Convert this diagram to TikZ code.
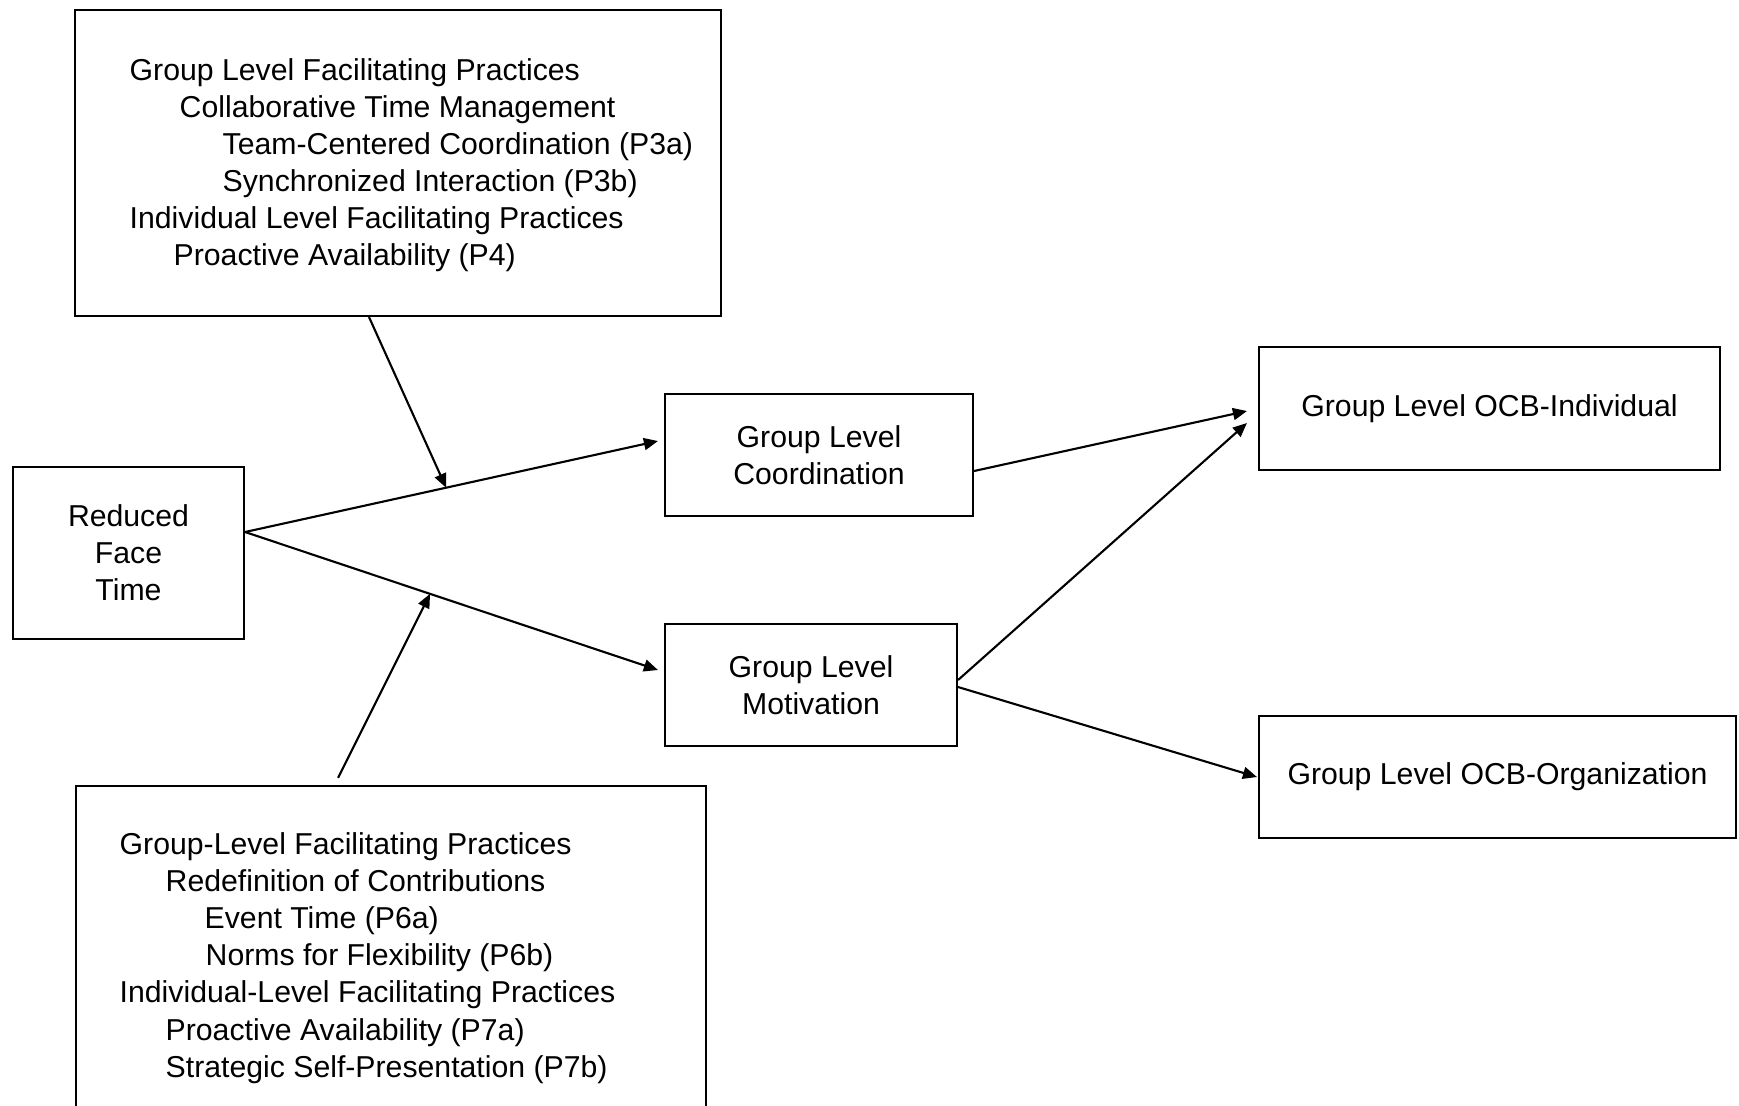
\documentclass[tikz,border=0pt]{standalone}
\usepackage{fontspec}
\setmainfont{Liberation Sans}
\usetikzlibrary{arrows.meta}

\begin{document}
\begin{tikzpicture}[font=\fontsize{8.6}{10.55}\selectfont]
	\tikzstyle{box_style} = [rectangle,draw=black,line width=0.6pt,align=center,inner sep=0pt]
	\tikzstyle{list_style} = [align=left,inner sep=0pt,anchor=west]
	\tikzstyle{edge_style} = [draw=black,line width=0.6pt,-{Triangle[length=4pt,width=3.4pt]}]
	\useasboundingbox (0,0) rectangle (17.39,-11.05);
	\clip (0,0) rectangle (17.39,-11.05);
	% moderator boxes
	\node[box_style,minimum width=6.46cm,minimum height=3.06cm] (top) at (3.98,-1.63) {};
	\node[list_style] (top_list) at (1.29,-1.65) {Group Level Facilitating Practices\\
		\hspace*{0.50cm}Collaborative Time Management\\
		\hspace*{0.93cm}Team-Centered Coordination (P3a)\\
		\hspace*{0.93cm}Synchronized Interaction (P3b)\\
		Individual Level Facilitating Practices\\
		\hspace*{0.44cm}Proactive Availability (P4)};
	\node[box_style,minimum width=6.30cm,minimum height=3.49cm] (bottom) at (3.91,-9.605) {};
	\node[list_style] (bottom_list) at (1.19,-9.58) {Group-Level Facilitating Practices\\
		\hspace*{0.46cm}Redefinition of Contributions\\
		\hspace*{0.85cm}Event Time (P6a)\\
		\hspace*{0.86cm}Norms for Flexibility (P6b)\\
		Individual-Level Facilitating Practices\\
		\hspace*{0.46cm}Proactive Availability (P7a)\\
		\hspace*{0.46cm}Strategic Self-Presentation (P7b)};
	% path boxes
	\node[box_style,minimum width=2.31cm,minimum height=1.72cm] (rft) at (1.285,-5.53) {Reduced\\Face\\Time};
	\node[box_style,minimum width=3.08cm,minimum height=1.22cm] (coord) at (8.19,-4.55) {Group Level\\Coordination};
	\node[box_style,minimum width=2.92cm,minimum height=1.22cm] (motiv) at (8.11,-6.85) {Group Level\\Motivation};
	\node[box_style,minimum width=4.61cm,minimum height=1.23cm] (ocb_ind) at (14.895,-4.085) {Group Level OCB-Individual};
	\node[box_style,minimum width=4.77cm,minimum height=1.22cm] (ocb_org) at (14.975,-7.77) {Group Level OCB-Organization};
	% arrows
	\coordinate (src) at ([yshift=2.1mm]rft.east);
	\draw[edge_style] (src) -- ([xshift=-0.6mm,yshift=1.4mm]coord.west) coordinate[pos=0.487] (mod_up);
	\draw[edge_style] (src) -- ([xshift=-0.6mm,yshift=1.5mm]motiv.west) coordinate[pos=0.448] (mod_low);
	\draw[edge_style] ([xshift=-2.9mm]top.south) -- (mod_up);
	\draw[edge_style,shorten <=0.8mm] ([xshift=-5.65mm]bottom.north) -- (mod_low);
	\draw[edge_style] ([yshift=-1.6mm]coord.east) -- ([xshift=-1.1mm,yshift=-0.25mm]ocb_ind.west);
	\draw[edge_style] ([yshift=0.5mm]motiv.east) -- ([xshift=-1.1mm,yshift=-1.45mm]ocb_ind.west);
	\draw[edge_style] ([yshift=-0.2mm]motiv.east) -- ([xshift=-0.1mm]ocb_org.west);
\end{tikzpicture}
\end{document}
